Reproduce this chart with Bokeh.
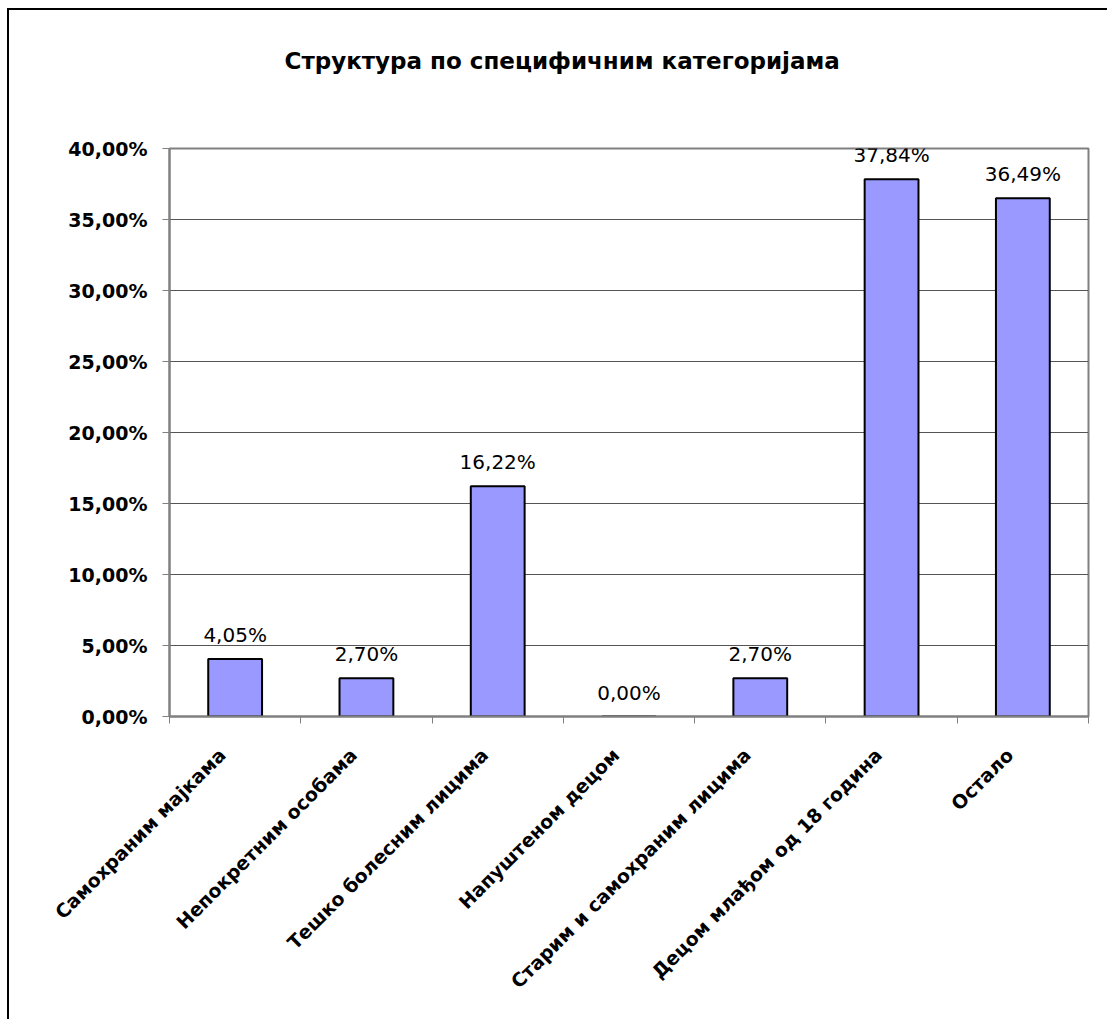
import math
from bokeh.plotting import figure
from bokeh.models import ColumnDataSource, Range1d, FixedTicker, LabelSet, Title
from bokeh.core.properties import value
from bokeh.embed import file_html
from bokeh.resources import INLINE

# ---- data ----
categories = ["Самохраним мајкама", "Непокретним особама", "Тешко болесним лицима",
              "Напуштеном децом", "Старим и самохраним лицима",
              "Децом млађом од 18 година", "Остало"]
values = [4.05, 2.70, 16.22, 0.00, 2.70, 37.84, 36.49]
value_labels = ["4,05%", "2,70%", "16,22%", "0,00%", "2,70%", "37,84%", "36,49%"]
y_ticks = [0, 5, 10, 15, 20, 25, 30, 35, 40]
y_tick_labels = ["0,00%", "5,00%", "10,00%", "15,00%", "20,00%", "25,00%",
                 "30,00%", "35,00%", "40,00%"]
title_text = "Структура по специфичним категоријама"

xs = [i + 0.5 for i in range(len(categories))]
label_pos = [x - 0.1 for x in xs]
source = ColumnDataSource(dict(x=xs, top=values, lab=value_labels))

FONT = "DejaVu Sans"

p = figure(width=1100, height=1011, output_backend="svg", toolbar_location=None,
           x_range=Range1d(0, len(categories)), y_range=Range1d(0, 40),
           min_border_left=160, min_border_right=21, min_border_top=138,
           min_border_bottom=305, tools="")
p.styles = {"border-left": "2px solid black", "border-top": "2px solid black",
            "margin-left": "7px", "margin-top": "8px"}

# spacer title (closest to the frame) then the real title above it
spacer = Title(text=" ", text_font_size="10px", standoff=62)
p.add_layout(spacer, "above")
main_title = Title(text=title_text, align="left", offset=115, standoff=0,
                   text_font=FONT, text_font_style="bold", text_font_size="23px",
                   text_color="black")
p.add_layout(main_title, "above")

p.vbar(x="x", top="top", width=0.41, bottom=0, source=source,
       fill_color="#9999FF", line_color="black", line_width=2)

labels = LabelSet(x="x", y="top", text="lab", source=source, text_align="center",
                  text_baseline="bottom", y_offset=12, text_font=value(FONT),
                  text_font_size=value("20px"), text_color="black")
p.add_layout(labels)

# y axis
p.yaxis.ticker = FixedTicker(ticks=y_ticks)
p.yaxis.major_label_overrides = {t: l for t, l in zip(y_ticks, y_tick_labels)}
p.yaxis.major_label_text_font = FONT
p.yaxis.major_label_text_font_style = "bold"
p.yaxis.major_label_text_font_size = "19px"
p.yaxis.major_label_text_color = "black"
p.yaxis.major_label_standoff = 15
p.yaxis.major_tick_out = 7
p.yaxis.major_tick_in = 0
p.yaxis.minor_tick_line_color = None
p.yaxis.axis_line_color = "#808080"
p.yaxis.axis_line_width = 2
p.yaxis.major_tick_line_color = "#808080"

# x axis
p.xaxis.ticker = FixedTicker(ticks=label_pos, minor_ticks=list(range(len(categories) + 1)))
p.xaxis.major_label_overrides = {x: c for x, c in zip(label_pos, categories)}
p.xaxis.major_label_orientation = math.pi / 4
p.xaxis.major_label_text_font = FONT
p.xaxis.major_label_text_font_style = "bold"
p.xaxis.major_label_text_font_size = "19px"
p.xaxis.major_label_text_color = "black"
p.xaxis.major_label_standoff = 28
p.xaxis.major_tick_line_color = None
p.xaxis.minor_tick_out = 7
p.xaxis.minor_tick_in = 0
p.xaxis.minor_tick_line_color = "#808080"
p.xaxis.axis_line_color = "#808080"
p.xaxis.axis_line_width = 2

p.xgrid.grid_line_color = None
p.ygrid.grid_line_color = "#555555"
p.ygrid.grid_line_width = 1

p.outline_line_color = "#808080"
p.outline_line_width = 2
p.background_fill_color = "white"
p.border_fill_color = "white"

open("out.html", "w").write(file_html(p, INLINE))
